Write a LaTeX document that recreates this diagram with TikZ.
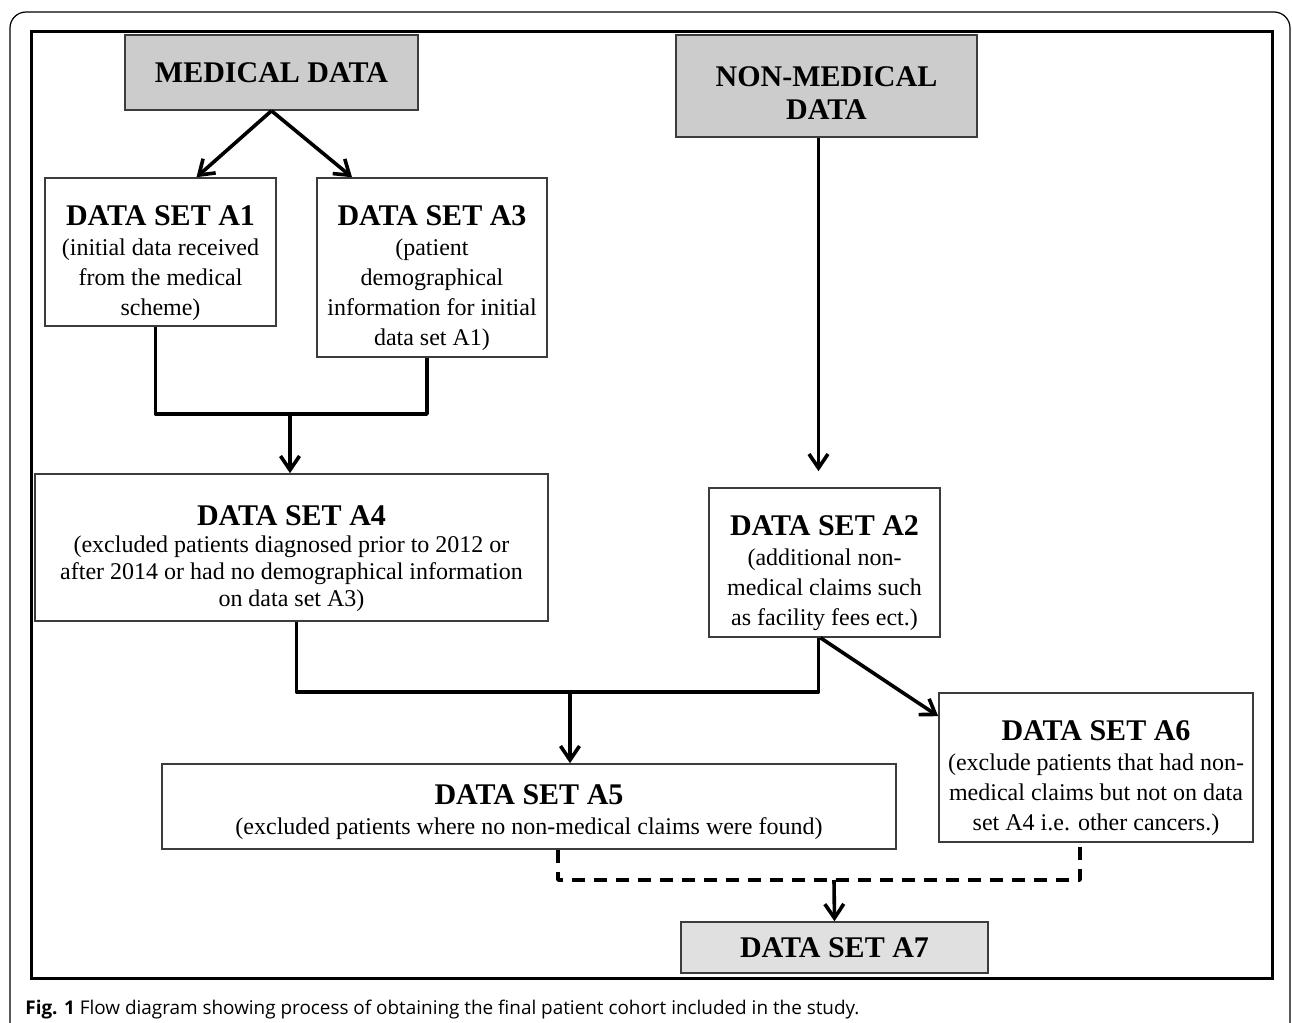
\documentclass[tikz,border=0pt]{standalone}
\usepackage{fontspec}
\setmainfont{Liberation Serif}
\newfontfamily\capfont{Open Sans}
\usetikzlibrary{arrows.meta, positioning, calc}
\definecolor{cGrayHead}{RGB}{204,204,204}
\definecolor{cGrayEnd}{RGB}{224,224,224}
\definecolor{cEdge}{RGB}{60,60,60}
\tikzset{
	dbox/.style     ={rectangle, draw=cEdge, line width=0.8pt, align=center, inner sep=0pt, font=\fontsize{12}{15}\selectfont},
	hbox/.style     ={dbox, fill=cGrayHead, font=\bfseries\fontsize{15}{16.5}\selectfont},
	link/.style     ={line width=1.8pt, line join=round},
	flowarrow/.style={link, -{Straight Barb[length=7pt, width=9.5pt]}},
	dlink/.style    ={link, dash pattern=on 6.5pt off 4.5pt},
}
\newcommand{\dstitle}[2][21pt]{{\rule{0pt}{#1}\bfseries\fontsize{15}{15}\selectfont #2}}

\begin{document}
\begin{tikzpicture}[x=0.5pt, y=-0.5pt]
	\useasboundingbox (0,0) rectangle (1292,1023);
	\draw[line width=0.6pt, rounded corners=8pt] (10,1070) -- (10,12) -- (1290,12) -- (1290,1070);
	\draw[line width=1.5pt] (31,31) rectangle (1272,978);
	% sources
	\node[hbox, minimum width=146.5pt, minimum height=37.5pt] (med) at (271.5,72.5) {MEDICAL DATA};
	\node[hbox, minimum width=150.5pt, minimum height=51pt] (nonmed) at (826.5,86) {\rule{0pt}{17pt}NON-MEDICAL\\DATA};
	% data sets
	\node[dbox, minimum width=115.5pt, minimum height=74pt] (A1) at (160.5,252) {\dstitle{DATA SET A1}\\(initial data received\\from the medical\\scheme)};
	\node[dbox, minimum width=115pt, minimum height=89.5pt] (A3) at (432,267.5) {\dstitle{DATA SET A3}\\(patient\\demographical\\information for initial\\data set A1)};
	\node[dbox, minimum width=256.5pt, minimum height=73.5pt, font=\fontsize{12}{13.5}\selectfont] (A4) at (291.5,547.5) {\dstitle{DATA SET A4}\\(excluded patients diagnosed prior to 2012 or\\after 2014 or had no demographical information\\on data set A3)};
	\node[dbox, minimum width=115.5pt, minimum height=74.5pt] (A2) at (824.5,562.5) {\dstitle{DATA SET A2}\\(additional non-\\medical claims such\\as facility fees ect.)};
	\node[dbox, minimum width=367pt, minimum height=42.5pt] (A5) at (529,806.5) {\dstitle[16pt]{DATA SET A5}\\(excluded patients where no non-medical claims were found)};
	\node[dbox, minimum width=157pt, minimum height=74.5pt] (A6) at (1096,767.5) {\dstitle{DATA SET A6}\\(exclude patients that had non-\\medical claims but not on data\\set A4 i.e. other cancers.)};
	\node[hbox, fill=cGrayEnd, minimum width=153.5pt, minimum height=25.5pt] (A7) at (834.5,947.5) {DATA SET A7};
	% caption
	\node[anchor=base west, inner sep=0pt, font=\capfont\fontsize{9.45}{11}\selectfont] (cap) at (25,1014) {\textbf{Fig. 1} Flow diagram showing process of obtaining the final patient cohort included in the study.};
	% junctions
	\coordinate (jA) at (290,414);
	\coordinate (jB) at (570,692);
	\coordinate (jC) at (834,880);
	% connectors
	\draw[flowarrow] (med.south) -- ($(A1.north)+(36,0)$);
	\draw[flowarrow] (med.south) -- ($(A3.north)+(-80,0)$);
	\draw[link] ($(A1.south)+(-5,0)$) |- (jA) -| ($(A3.south)+(-5,0)$);
	\draw[flowarrow] (jA) -- (jA |- A4.north);
	\draw[flowarrow, shorten >=8pt] ($(nonmed.south)+(-8,0)$) -- ($(A2.north)+(-6,0)$);
	\draw[link] ($(A4.south)+(5,0)$) |- (jB) -| ($(A2.south)+(-6,0)$);
	\draw[flowarrow] (jB) -- (jB |- A5.north);
	\draw[flowarrow] ($(A2.south)+(-4,0)$) -- ($(A6.north west)+(0,24)$);
	\draw[dlink] ($(A5.south)+(29,0)$) |- (jC) -| ($(A6.south)+(-16,0)$);
	\draw[flowarrow] (jC) -- (A7.north);
\end{tikzpicture}
\end{document}
